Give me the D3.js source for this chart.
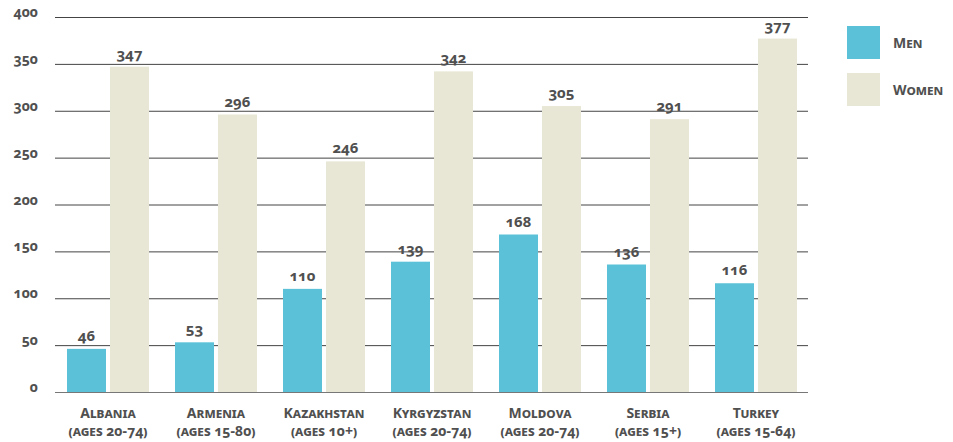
<!DOCTYPE html>
<html><head><meta charset="utf-8">
<script src="https://cdn.jsdelivr.net/npm/d3@7"></script>
<style>
body{margin:0;background:#fff;}
text{font-family:"Noto Sans","Open Sans",sans-serif;font-weight:bold;fill:#505050;font-variant-numeric:oldstyle-nums;font-feature-settings:"onum" 1;}
</style></head>
<body><svg id="c" width="953" height="442"></svg>
<script>
const countries = ["Albania","Armenia","Kazakhstan","Kyrgyzstan","Moldova","Serbia","Turkey"];
const ageRanges = ["(ages 20-74)","(ages 15-80)","(ages 10+)","(ages 20-74)","(ages 20-74)","(ages 15+)","(ages 15-64)"];
const men = [46,53,110,139,168,136,116];
const women = [347,296,246,342,305,291,377];
const seriesNames = ["Men","Women"];
const yTicks = [0,50,100,150,200,250,300,350,400];
const colors = ["#5BC1D8","#E8E7D5"];

const svg = d3.select("#c");
const y = d3.scaleLinear().domain([0,400]).range([392,17]);
const x0 = d3.scaleBand().domain(countries).range([54,810]).paddingInner(0);
const x1 = d3.scaleBand().domain(seriesNames).range([13,95]).paddingInner(4/43);

// grid
svg.append("g").selectAll("line").data(yTicks).join("line")
  .attr("x1",55).attr("x2",808)
  .attr("y1",d=>y(d)+0.5).attr("y2",d=>y(d)+0.5)
  .attr("stroke",d=>d===0?"#777":"#444").attr("stroke-width",1);

svg.append("g").selectAll("text").data(yTicks).join("text")
  .attr("x",38).attr("y",d=>y(d)).attr("text-anchor","end")
  .attr("font-size",14).text(d=>d);

const groups = svg.append("g").selectAll("g").data(countries).join("g")
  .attr("transform",d=>`translate(${x0(d)},0)`);

const vals = (c,i)=>[{s:"Men",v:men[i]},{s:"Women",v:women[i]}];
groups.each(function(c,i){
  const g = d3.select(this);
  const data = vals(c,i);
  g.selectAll("rect").data(data).join("rect")
    .attr("x",d=>x1(d.s)).attr("width",x1.bandwidth())
    .attr("y",d=>y(d.v)).attr("height",d=>y(0)-y(d.v))
    .attr("fill",(d,j)=>colors[j]);
  g.selectAll("text.v").data(data).join("text").attr("class","v")
    .attr("x",d=>x1(d.s)+x1.bandwidth()/2).attr("y",d=>y(d.v)-8)
    .attr("text-anchor","middle").attr("font-size",15).text(d=>d.v);
  g.append("text").attr("x",x0.bandwidth()/2).attr("y",418)
    .attr("text-anchor","middle").attr("font-size",14)
    .style("font-variant","small-caps").text(c);
  g.append("text").attr("x",x0.bandwidth()/2).attr("y",436)
    .attr("text-anchor","middle").attr("font-size",14)
    .style("font-variant","small-caps").text(ageRanges[i]);
});

// legend
const lg = svg.append("g").selectAll("g").data(seriesNames).join("g")
  .attr("transform",(d,i)=>`translate(847,${26+i*47})`);
lg.append("rect").attr("width",33).attr("height",33).attr("fill",(d,i)=>colors[i]);
lg.append("text").attr("x",46).attr("y",22).attr("font-size",14)
  .style("font-variant","small-caps").text(d=>d);
</script></body></html>
